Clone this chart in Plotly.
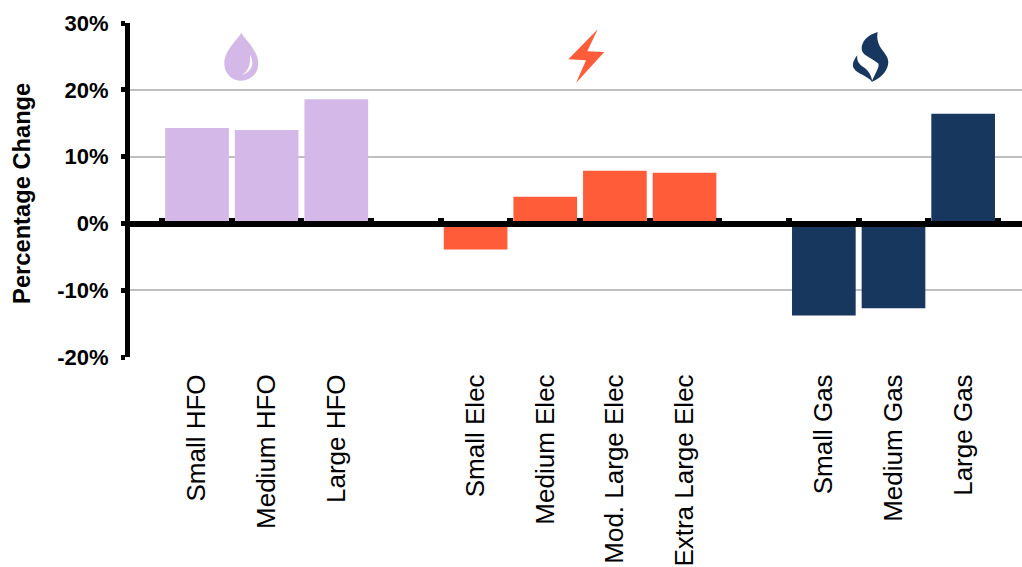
import re
import plotly.graph_objects as go

# Percentage change in each equipment class, grouped by fuel
hfo_labels = ["Small HFO", "Medium HFO", "Large HFO"]
hfo_values = [14.3, 14.0, 18.6]
elec_labels = ["Small Elec", "Medium Elec", "Mod. Large Elec", "Extra Large Elec"]
elec_values = [-3.9, 4.0, 7.9, 7.6]
gas_labels = ["Small Gas", "Medium Gas", "Large Gas"]
gas_values = [-13.8, -12.7, 16.4]

y_ticks = [30, 20, 10, 0, -10, -20]
y_tick_labels = ["30%", "20%", "10%", "0%", "-10%", "-20%"]

HFO_COLOR = "#D3B8E8"
ELEC_COLOR = "#FF5C39"
GAS_COLOR = "#17375F"
GRID = "#BFBFBF"
FONT = "Liberation Sans"

W, H = 1022, 567
LEFT, TOP, BOTTOM = 130, 22.7, 209.5

# Blank categories leave a gap between the fuel groups
categories = hfo_labels + [" "] + elec_labels + ["  "] + gas_labels
x_range = [-0.962, 11.845]


def fx(px):
    return (px - LEFT) / (W - LEFT)


def fy(py):
    return 1 - (py - TOP) / (H - TOP - BOTTOM)


def icon(path, cx, cy, color, scale=1.0):
    """Place an SVG-style path (y down, pixels) around a page position."""
    parts = re.findall(r"[MCLZ]|-?[\d.]+", path)
    out, is_x = [], True
    for p in parts:
        if p in "MCLZ":
            out.append(p)
            is_x = True
        else:
            v = float(p) * scale
            out.append(f"{v:.2f}" if is_x else f"{-v:.2f}")
            is_x = not is_x
    return dict(
        type="path", path=" ".join(out), xref="paper", yref="paper",
        xsizemode="pixel", ysizemode="pixel",
        xanchor=fx(cx), yanchor=fy(cy),
        fillcolor=color, line=dict(width=0), layer="above",
    )


DROP = "M 0 -27.5 C -4 -20 -17 -10 -17 3.5 C -17 13 -9.5 20.5 0 20.5 C 9.5 20.5 17 13 17 3.5 C 17 -10 4 -20 0 -27.5 Z"
DROP_SHINE = "M 8.7 -5.7 C 14 4 10 13 -1.3 15 C 5 14 10 6 8.7 -5.7 Z"
BOLT = "M 11.7 -26 L -17.7 4 L 0 5 L -10 27.7 L 18.3 -3.3 L 1.3 -4 Z"
FLAME_BODY = ("M 19 -75 C -14 -65 -29 -45 -29 -25 C -29 -5 -4 0 21 20 "
              "C 26 30 11 50 1 75 C 36 60 51 35 51 15 C 51 -15 11 -25 19 -75 Z")
FLAME_LOBE = ("M -42 -5 C -54 10 -59 25 -52 35 C -44 50 -14 55 3 75 "
              "C 1 55 -9 40 -24 30 C -39 20 -44 10 -42 -5 Z")

fig = go.Figure()
for labels, values, color in [
    (hfo_labels, hfo_values, HFO_COLOR),
    (elec_labels, elec_values, ELEC_COLOR),
    (gas_labels, gas_values, GAS_COLOR),
]:
    fig.add_bar(x=labels, y=values, marker=dict(color=color, line=dict(width=0)),
                showlegend=False, hoverinfo="x+y")

fig.update_layout(
    width=W, height=H,
    margin=dict(l=LEFT, r=0, t=TOP, b=BOTTOM, pad=0, autoexpand=False),
    paper_bgcolor="white", plot_bgcolor="white",
    barmode="overlay", bargap=0.086,
    font=dict(family=FONT, color="black"),
    xaxis=dict(
        type="category", categoryorder="array", categoryarray=categories,
        tickmode="array", tickvals=hfo_labels + elec_labels + gas_labels,
        range=x_range, showgrid=False, zeroline=False, showline=False,
        ticks="outside", ticklen=6, tickcolor="rgba(0,0,0,0)",
        tickangle=-90, tickfont=dict(size=26, family=FONT, color="black"),
        automargin=False,
    ),
    # Black baseline through zero, with ticks on the category boundaries
    xaxis2=dict(
        overlaying="x", anchor="free", position=fy(224.3), side="bottom",
        type="linear", range=x_range, tick0=-0.5, dtick=1,
        showgrid=False, zeroline=False, showticklabels=False,
        showline=True, linecolor="black", linewidth=6,
        ticks="inside", ticklen=3, tickwidth=6, tickcolor="black",
    ),
    yaxis=dict(
        range=[-20, 30], tickmode="array", tickvals=y_ticks, ticktext=y_tick_labels,
        showgrid=True, gridcolor=GRID, gridwidth=2, zeroline=False,
        showline=True, linecolor="black", linewidth=5,
        ticks="outside", ticklen=4, tickwidth=5, tickcolor="black",
        tickfont=dict(size=22, family=FONT, color="black", weight="bold"),
        ticklabelstandoff=8, automargin=False,
    ),
    shapes=[
        icon(DROP, 241.3, 60, HFO_COLOR),
        icon(DROP_SHINE, 241.3, 60, "white"),
        icon(BOLT, 586, 55, ELEC_COLOR),
        icon(FLAME_BODY, 871.3, 56.7, GAS_COLOR, 1 / 3),
        icon(FLAME_LOBE, 871.3, 56.7, GAS_COLOR, 1 / 3),
    ],
    annotations=[dict(
        text="<b>Percentage Change</b>", textangle=-90, showarrow=False,
        xref="paper", yref="paper", x=fx(22), y=fy(194),
        xanchor="center", yanchor="middle",
        font=dict(size=23.7, family=FONT, color="black"),
    )],
)
# The baseline axis needs a subplot of its own to be drawn
fig.add_scatter(x=[None], y=[None], xaxis="x2", showlegend=False, hoverinfo="skip")

fig.write_html("out.html")
